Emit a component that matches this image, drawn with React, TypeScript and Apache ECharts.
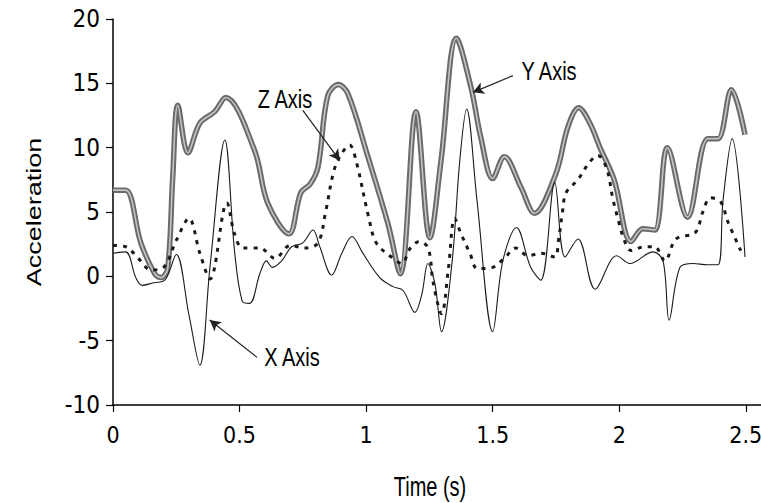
import React, { useEffect, useRef } from "react";
import * as echarts from "echarts";

// Time (s) and acceleration values
const timeX = [0, 0.05, 0.09, 0.115, 0.16, 0.205, 0.25, 0.30, 0.343, 0.383, 0.442, 0.48, 0.51, 0.54, 0.58, 0.606, 0.63, 0.666, 0.706, 0.75, 0.79, 0.817, 0.864, 0.904, 0.944, 0.987, 1.054, 1.106, 1.146, 1.193, 1.22, 1.244, 1.272, 1.298, 1.34, 1.37, 1.397, 1.438, 1.5, 1.54, 1.594, 1.65, 1.69, 1.745, 1.786, 1.837, 1.905, 1.99, 2.042, 2.133, 2.173, 2.197, 2.24, 2.292, 2.347, 2.39, 2.41, 2.446, 2.497];
const accX = [1.8, 1.9, -0.1, -0.7, -0.5, -0.3, 1.7, -3.0, -6.9, 0.7, 10.6, 2.0, -1.9, -2.1, 0.2, 1.2, 0.7, 1.2, 2.3, 2.6, 3.6, 2.3, 0.1, 1.8, 3.1, 1.8, -0.1, -0.8, -1.1, -2.8, -1.4, 1.0, -0.6, -4.3, 1.2, 9.0, 13.0, 5.9, -4.3, 1.2, 3.8, 0.7, -0.3, 7.3, 1.5, 2.9, -1.0, 1.6, 1.0, 1.9, 1.2, -3.4, 0.7, 1.0, 0.9, 0.9, 5.9, 10.7, 1.5];

const timeY = [0, 0.05, 0.11, 0.165, 0.19, 0.216, 0.236, 0.256, 0.296, 0.343, 0.402, 0.445, 0.559, 0.611, 0.695, 0.742, 0.78, 0.81, 0.848, 0.89, 0.928, 1.007, 1.086, 1.135, 1.197, 1.252, 1.296, 1.357, 1.414, 1.453, 1.5, 1.546, 1.612, 1.665, 1.75, 1.797, 1.84, 1.884, 1.924, 1.98, 2.047, 2.093, 2.14, 2.19, 2.27, 2.35, 2.39, 2.443, 2.497];
const accY = [6.7, 6.7, 2.6, 0.2, -0.1, 0.6, 7.7, 13.3, 9.6, 11.9, 12.8, 13.9, 9.8, 5.7, 3.3, 6.5, 7.2, 8.5, 14.0, 14.9, 14.2, 9.3, 4.1, 0.2, 12.8, 3.0, 9.0, 18.5, 14.7, 10.8, 7.6, 9.3, 6.9, 4.9, 8.0, 11.6, 13.1, 11.9, 10.0, 7.5, 2.7, 3.7, 3.6, 10.0, 4.6, 10.7, 10.7, 14.5, 11.0];

const timeZ = [0, 0.05, 0.1, 0.15, 0.2, 0.25, 0.3, 0.343, 0.383, 0.45, 0.48, 0.513, 0.58, 0.64, 0.70, 0.76, 0.81, 0.84, 0.87, 0.896, 0.935, 0.96, 1.01, 1.04, 1.1, 1.14, 1.175, 1.21, 1.245, 1.265, 1.298, 1.325, 1.35, 1.375, 1.41, 1.44, 1.5, 1.55, 1.59, 1.64, 1.69, 1.745, 1.76, 1.775, 1.79, 1.836, 1.88, 1.915, 1.95, 1.975, 2.0, 2.02, 2.047, 2.1, 2.14, 2.18, 2.224, 2.3, 2.33, 2.36, 2.4, 2.43, 2.48];
const accZ = [2.4, 2.3, 1.4, 0.5, 0.7, 2.8, 4.5, 1.8, -0.2, 5.7, 3.3, 2.2, 2.2, 1.4, 2.4, 2.2, 2.6, 5.0, 8.0, 9.3, 10.2, 9.0, 4.6, 2.6, 1.5, 1.0, 2.2, 2.7, 2.2, -0.5, -2.9, 0.6, 4.5, 3.3, 1.8, 0.6, 0.7, 1.5, 2.2, 1.6, 1.8, 1.5, 2.8, 4.9, 6.5, 7.5, 8.8, 9.4, 8.4, 6.0, 4.1, 2.8, 2.0, 2.3, 2.3, 1.2, 2.9, 3.4, 5.0, 6.1, 5.8, 4.2, 2.0];

const xTicks = [0, 0.5, 1, 1.5, 2, 2.5];
const xTickLabels = ["0", "0.5", "1", "1.5", "2", "2.5"];

// annotation arrows: [fromTime, fromAcc, toTime, toAcc]
const arrowZ = [0.75, 12.9, 0.896, 9.0];
const arrowY = [1.58, 15.6, 1.422, 14.3];
const arrowX = [0.569, -6.3, 0.382, -3.4];

const pairs = (t: number[], v: number[]) => t.map((x, i) => [x, v[i]]);

const FONT = '"Liberation Sans Narrow", "DejaVu Sans Condensed", "Liberation Sans", Arial, sans-serif';

export default function App() {
  const ref = useRef<HTMLDivElement>(null);
  useEffect(() => {
    document.body.style.margin = "0";
    const chart = echarts.init(ref.current!, null, { renderer: "svg" });
    const arrowLine = (a: number[]) => [{ coord: [a[0], a[1]] }, { coord: [a[2], a[3]] }];
    chart.setOption({
      animation: false,
      backgroundColor: "#fff",
      grid: { left: 113, right: 0, top: 19, bottom: 98, outerBoundsMode: "none" },
      xAxis: {
        type: "value",
        min: 0,
        max: 2.56,
        axisLine: { show: true, onZero: false, lineStyle: { color: "#000", width: 1.5 } },
        axisTick: { show: true, length: 7, customValues: xTicks, lineStyle: { color: "#000", width: 1.2 } },
        axisLabel: {
          customValues: xTicks,
          color: "#000",
          fontSize: 23,
          fontFamily: FONT,
          margin: 18,
          formatter: (v: number) => xTickLabels[xTicks.indexOf(v)] ?? String(v),
        },
        splitLine: { show: false },
      },
      yAxis: {
        type: "value",
        min: -10,
        max: 20,
        interval: 5,
        axisLine: { show: true, onZero: false, lineStyle: { color: "#000", width: 1.5 } },
        axisTick: { show: true, length: 7, lineStyle: { color: "#000", width: 1.2 } },
        axisLabel: { color: "#000", fontSize: 24, fontFamily: FONT, margin: 13 },
        splitLine: { show: false },
      },
      graphic: [
        {
          type: "text",
          x: 34,
          y: 212,
          rotation: Math.PI / 2,
          scaleX: 1.35,
          style: { text: "Acceleration", font: '20px "Liberation Sans", Arial', fill: "#000", align: "center", verticalAlign: "middle" },
        },
        {
          type: "text",
          x: 430,
          y: 486,
          scaleY: 1.35,
          style: { text: "Time (s)", font: '20px "Liberation Sans", Arial', fill: "#000", align: "center", verticalAlign: "middle" },
        },
        {
          type: "text",
          x: 285,
          y: 100,
          scaleY: 1.25,
          style: { text: "Z Axis", font: '20px "Liberation Sans", Arial', fill: "#000", align: "center", verticalAlign: "middle" },
        },
        {
          type: "text",
          x: 549,
          y: 72,
          scaleY: 1.25,
          style: { text: "Y Axis", font: '20px "Liberation Sans", Arial', fill: "#000", align: "center", verticalAlign: "middle" },
        },
        {
          type: "text",
          x: 292,
          y: 358,
          scaleY: 1.25,
          style: { text: "X Axis", font: '20px "Liberation Sans", Arial', fill: "#000", align: "center", verticalAlign: "middle" },
        },
      ],
      series: [
        {
          name: "Y Axis outer",
          type: "line",
          data: pairs(timeY, accY),
          smooth: 0.35,
          showSymbol: false,
          lineStyle: { color: "#6a6a6a", width: 5.5 },
          z: 2,
        },
        {
          name: "Y Axis inner",
          type: "line",
          data: pairs(timeY, accY),
          smooth: 0.35,
          showSymbol: false,
          lineStyle: { color: "#c4c4c4", width: 1.6 },
          z: 3,
        },
        {
          name: "Z Axis",
          type: "line",
          data: pairs(timeZ, accZ),
          smooth: 0.35,
          showSymbol: false,
          lineStyle: { color: "#1a1a1a", width: 3, type: [4, 6] },
          z: 4,
        },
        {
          name: "X Axis",
          type: "line",
          data: pairs(timeX, accX),
          smooth: 0.35,
          showSymbol: false,
          lineStyle: { color: "#1a1a1a", width: 1.1 },
          z: 5,
          markLine: {
            silent: true,
            symbol: ["none", "arrow"],
            symbolSize: [9, 11],
            label: { show: false },
            lineStyle: { color: "#222", width: 1.2, type: "solid" },
            data: [arrowLine(arrowZ), arrowLine(arrowY), arrowLine(arrowX)],
          },
        },
      ],
    });
    return () => chart.dispose();
  }, []);
  return <div ref={ref} style={{ width: 761, height: 503 }} />;
}
